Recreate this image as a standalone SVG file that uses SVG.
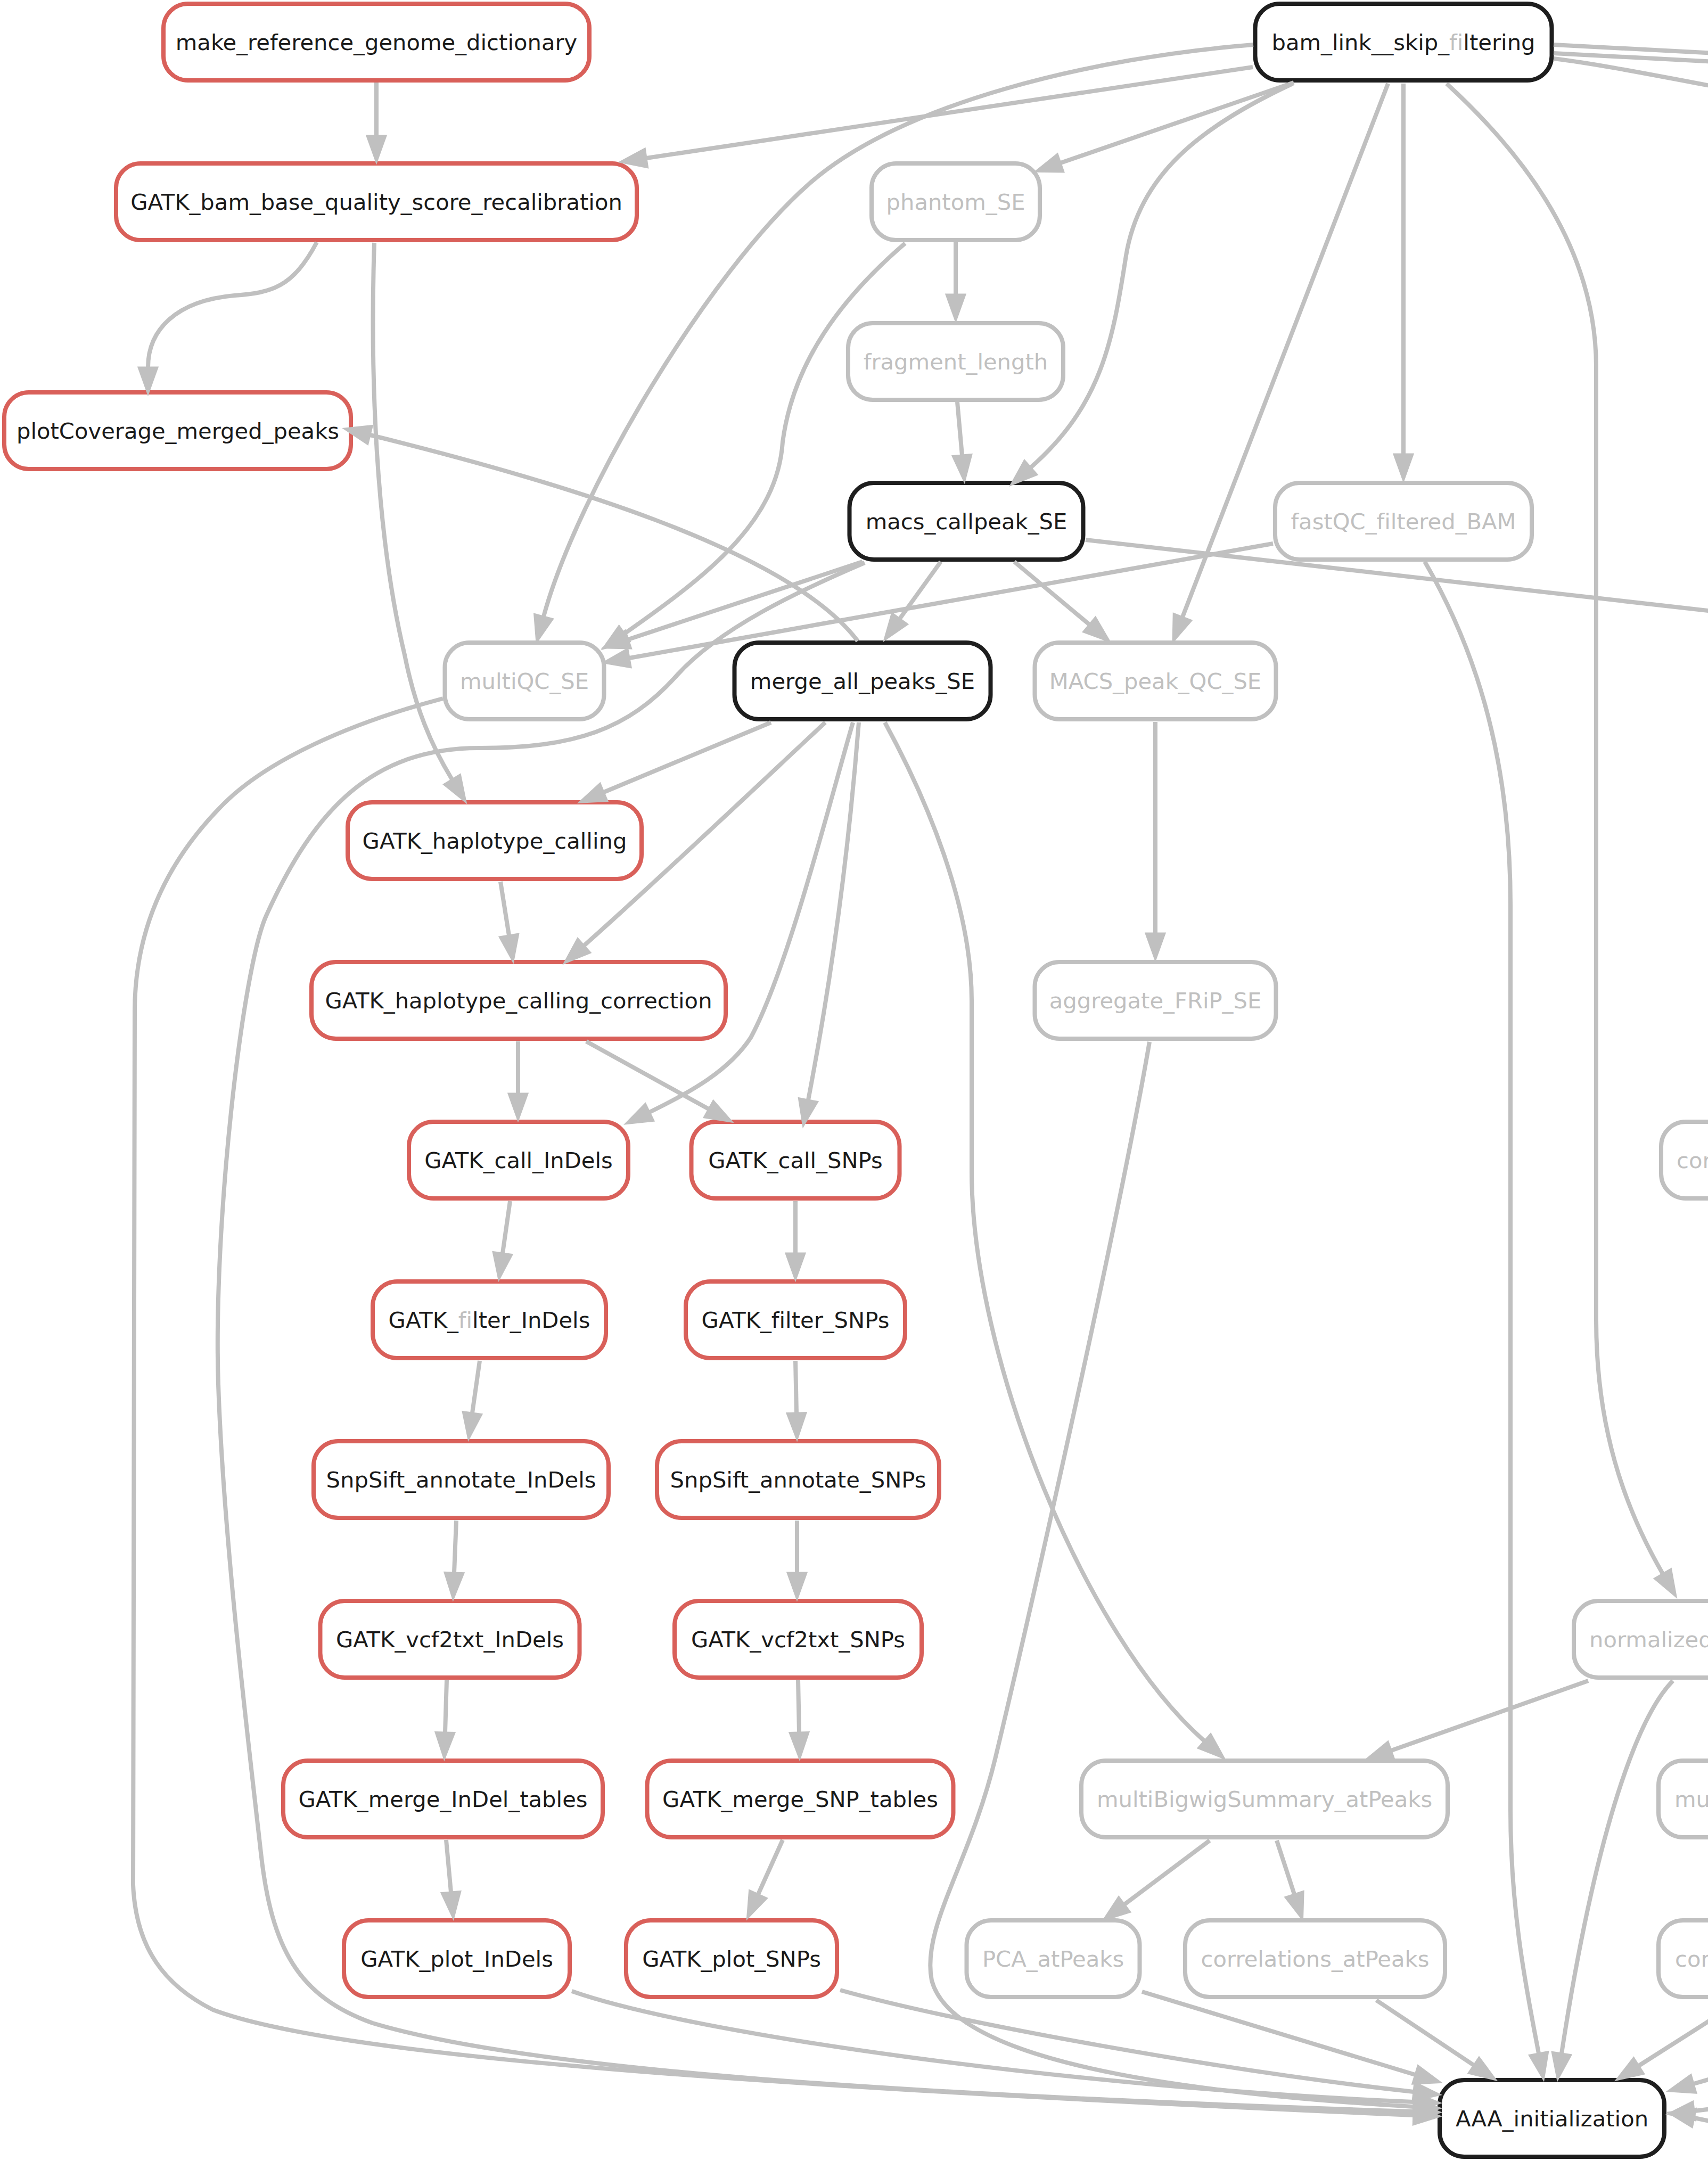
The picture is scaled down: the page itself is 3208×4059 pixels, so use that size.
<svg xmlns="http://www.w3.org/2000/svg" width="3208" height="4059" viewBox="0 0 3208 4059">
<style>
.n rect{fill:#fff;stroke-width:8}
.red rect{stroke:#d9605a}
.blk rect{stroke:#1e1e1e}
.gry rect{stroke:#c0c0c0}
text{font-family:"DejaVu Sans","Liberation Sans",sans-serif;font-size:41.7px;text-anchor:middle;fill:#1a1a1a;font-variant-ligatures:none}
.gry text{fill:#c0c0c0}
text.st{text-anchor:start}
.lf{fill:#c0c0c0}
#edges path{fill:none;stroke:#c0c0c0;stroke-width:8}
#edges path.a{marker-end:url(#ah)}
</style>
<defs>
<marker id="ah" markerUnits="userSpaceOnUse" viewBox="-4 -24 60 48" markerWidth="60" markerHeight="48" refX="0" refY="0" orient="auto">
<path d="M0,-18 L50,0 L0,18 Z" fill="#c0c0c0" stroke="#c0c0c0" stroke-width="3"/>
</marker>
</defs>
<rect x="0" y="0" width="3208" height="4059" fill="#fff"/>

<g id="n_make_reference_genome_dictionary" class="n red"><rect x="307" y="7" width="800" height="144" rx="46"/><text x="707" y="94">make_reference_genome_dictionary</text></g>
<g id="n_bam_link__skip_filtering" class="n blk"><rect x="2357.5" y="7" width="557" height="144" rx="46"/><text x="2636" y="94">bam_link__skip_<tspan class="lf">fi</tspan>ltering</text></g>
<g id="n_GATK_bam_base_quality_score_recalibration" class="n red"><rect x="218" y="307" width="978" height="144" rx="46"/><text x="707" y="394">GATK_bam_base_quality_score_recalibration</text></g>
<g id="n_phantom_SE" class="n gry"><rect x="1637" y="307" width="316" height="144" rx="46"/><text x="1795" y="394">phantom_SE</text></g>
<g id="n_plotCoverage_merged_peaks" class="n red"><rect x="8" y="737" width="651" height="144" rx="46"/><text x="334" y="824">plotCoverage_merged_peaks</text></g>
<g id="n_fragment_length" class="n gry"><rect x="1593" y="607" width="404" height="144" rx="46"/><text x="1795" y="694">fragment_length</text></g>
<g id="n_macs_callpeak_SE" class="n blk"><rect x="1595.5" y="907" width="439" height="144" rx="46"/><text x="1815" y="994">macs_callpeak_SE</text></g>
<g id="n_fastQC_filtered_BAM" class="n gry"><rect x="2395" y="907" width="482" height="144" rx="46"/><text x="2636" y="994">fastQC_filtered_BAM</text></g>
<g id="n_multiQC_SE" class="n gry"><rect x="835.5" y="1207" width="299" height="144" rx="46"/><text x="985" y="1294">multiQC_SE</text></g>
<g id="n_merge_all_peaks_SE" class="n blk"><rect x="1379.5" y="1207" width="481" height="144" rx="46"/><text x="1620" y="1294">merge_all_peaks_SE</text></g>
<g id="n_MACS_peak_QC_SE" class="n gry"><rect x="1943.5" y="1207" width="453" height="144" rx="46"/><text x="2170" y="1294">MACS_peak_QC_SE</text></g>
<g id="n_GATK_haplotype_calling" class="n red"><rect x="653" y="1507" width="552" height="144" rx="46"/><text x="929" y="1594">GATK_haplotype_calling</text></g>
<g id="n_GATK_haplotype_calling_correction" class="n red"><rect x="585" y="1807" width="778" height="144" rx="46"/><text x="974" y="1894">GATK_haplotype_calling_correction</text></g>
<g id="n_aggregate_FRiP_SE" class="n gry"><rect x="1943.5" y="1807" width="453" height="144" rx="46"/><text x="2170" y="1894">aggregate_FRiP_SE</text></g>
<g id="n_GATK_call_InDels" class="n red"><rect x="768" y="2107" width="412" height="144" rx="46"/><text x="974" y="2194">GATK_call_InDels</text></g>
<g id="n_GATK_call_SNPs" class="n red"><rect x="1298.5" y="2107" width="391" height="144" rx="46"/><text x="1494" y="2194">GATK_call_SNPs</text></g>
<g id="n_cor_r7" class="n gry"><rect x="3120" y="2107" width="400" height="144" rx="46"/><text class="st" x="3149" y="2194">cor</text></g>
<g id="n_GATK_filter_InDels" class="n red"><rect x="700" y="2407" width="438" height="144" rx="46"/><text x="919" y="2494">GATK_<tspan class="lf">fi</tspan>lter_InDels</text></g>
<g id="n_GATK_filter_SNPs" class="n red"><rect x="1288" y="2407" width="412" height="144" rx="46"/><text x="1494" y="2494">GATK_filter_SNPs</text></g>
<g id="n_SnpSift_annotate_InDels" class="n red"><rect x="589" y="2707" width="554" height="144" rx="46"/><text x="866" y="2794">SnpSift_annotate_InDels</text></g>
<g id="n_SnpSift_annotate_SNPs" class="n red"><rect x="1234" y="2707" width="530" height="144" rx="46"/><text x="1499" y="2794">SnpSift_annotate_SNPs</text></g>
<g id="n_GATK_vcf2txt_InDels" class="n red"><rect x="601.5" y="3007" width="487" height="144" rx="46"/><text x="845" y="3094">GATK_vcf2txt_InDels</text></g>
<g id="n_GATK_vcf2txt_SNPs" class="n red"><rect x="1267" y="3007" width="464" height="144" rx="46"/><text x="1499" y="3094">GATK_vcf2txt_SNPs</text></g>
<g id="n_normalized" class="n gry"><rect x="2956" y="3007" width="500" height="144" rx="46"/><text class="st" x="2985" y="3094">normalized</text></g>
<g id="n_GATK_merge_InDel_tables" class="n red"><rect x="532" y="3307" width="600" height="144" rx="46"/><text x="832" y="3394">GATK_merge_InDel_tables</text></g>
<g id="n_GATK_merge_SNP_tables" class="n red"><rect x="1215.5" y="3307" width="575" height="144" rx="46"/><text x="1503" y="3394">GATK_merge_SNP_tables</text></g>
<g id="n_multiBigwigSummary_atPeaks" class="n gry"><rect x="2031" y="3307" width="688" height="144" rx="46"/><text x="2375" y="3394">multiBigwigSummary_atPeaks</text></g>
<g id="n_mu_r11" class="n gry"><rect x="3115" y="3307" width="400" height="144" rx="46"/><text class="st" x="3145" y="3394">mu</text></g>
<g id="n_GATK_plot_InDels" class="n red"><rect x="646" y="3607" width="424" height="144" rx="46"/><text x="858" y="3694">GATK_plot_InDels</text></g>
<g id="n_GATK_plot_SNPs" class="n red"><rect x="1176" y="3607" width="396" height="144" rx="46"/><text x="1374" y="3694">GATK_plot_SNPs</text></g>
<g id="n_PCA_atPeaks" class="n gry"><rect x="1815.5" y="3607" width="325" height="144" rx="46"/><text x="1978" y="3694">PCA_atPeaks</text></g>
<g id="n_correlations_atPeaks" class="n gry"><rect x="2226" y="3607" width="488" height="144" rx="46"/><text x="2470" y="3694">correlations_atPeaks</text></g>
<g id="n_cor_r12" class="n gry"><rect x="3115" y="3607" width="400" height="144" rx="46"/><text class="st" x="3146" y="3694">cor</text></g>
<g id="n_AAA_initialization" class="n blk"><rect x="2704" y="3907" width="422" height="144" rx="46"/><text x="2915" y="3994">AAA_initialization</text></g>

<g id="edges">
<path class="a" d="M707,155 L707,255"/>
<path class="a" d="M2353,126 L1214,297"/>
<path class="a" d="M2354,84 C2054,108 1692,193 1520,345 C1332,510 1085,923 1021,1158"/>
<path class="a" d="M2430,155 L1992,306"/>
<path class="a" d="M2428,157 C2250,240 2140,330 2115,480 C2090,640 2070,760 1936,878"/>
<path class="a" d="M2607,157 L2221,1159"/>
<path class="a" d="M2636,157 L2636,853"/>
<path class="a" d="M2717,157 C2840,270 2998,450 2998,690 L2998,2480 C2998,2680 3050,2830 3123,2956"/>
<path d="M2918,84 L3260,102"/>
<path d="M2918,100 L3260,118"/>
<path d="M2918,110 C3000,120 3100,140 3260,170"/>
<path class="a" d="M1795,455 L1795,553"/>
<path class="a" d="M1700,457 C1580,560 1490,680 1470,830 C1460,980 1330,1080 1173,1190"/>
<path class="a" d="M1798,755 L1807,855"/>
<path class="a" d="M1620,1055 L1180,1201"/>
<path class="a" d="M1767,1055 L1690,1162"/>
<path class="a" d="M1905,1055 L2046,1173"/>
<path d="M2039,1014 L3260,1153"/>
<path class="a" d="M2391,1021 L1182,1236"/>
<path class="a" d="M2676,1055 C2760,1200 2837,1400 2837,1700 L2837,3400 C2837,3600 2870,3750 2890,3857"/>
<path class="a" d="M1624,1057 C1500,1110 1350,1180 1270,1270 C1180,1370 1080,1405 900,1405 C700,1405 590,1520 500,1720 C455,1820 400,2300 410,2600 C420,2900 470,3300 490,3480 C510,3660 560,3750 700,3800 C1000,3890 1700,3935 2655,3966"/>
<path class="a" d="M832,1312 C650,1360 500,1430 420,1510 C310,1620 253,1750 253,1900 L250,3540 C255,3660 310,3730 400,3775 C600,3850 1200,3910 2655,3973"/>
<path class="a" d="M1611,1204 C1480,1030 1032,900 695,817"/>
<path class="a" d="M595,455 C550,540 510,550 440,555 C330,565 278,620 278,690"/>
<path class="a" d="M703,456 C695,700 705,1000 760,1230 C780,1330 810,1400 849,1464"/>
<path class="a" d="M1448,1357 L1134,1488"/>
<path class="a" d="M1550,1357 C1450,1450 1250,1640 1097,1776"/>
<path class="a" d="M1602,1357 C1560,1500 1480,1820 1410,1949 C1370,2010 1300,2050 1220,2089"/>
<path class="a" d="M1613,1357 C1590,1650 1550,1900 1518,2066"/>
<path class="a" d="M1662,1357 C1740,1500 1825,1700 1825,1880 L1825,2200 C1825,2550 2037,3072 2262,3270"/>
<path class="a" d="M940,1656 L956,1757"/>
<path class="a" d="M973,1956 L973,2054"/>
<path class="a" d="M1101,1956 L1331,2083"/>
<path class="a" d="M958,2256 L944,2354"/>
<path class="a" d="M1494,2256 L1494,2354"/>
<path class="a" d="M901,2556 L887,2654"/>
<path class="a" d="M1494,2556 L1496,2654"/>
<path class="a" d="M857,2856 L853,2954"/>
<path class="a" d="M1497,2856 L1497,2954"/>
<path class="a" d="M839,3156 L836,3254"/>
<path class="a" d="M1499,3156 L1501,3254"/>
<path class="a" d="M838,3456 L847,3554"/>
<path class="a" d="M1470,3456 L1424,3558"/>
<path class="a" d="M1074,3740 C1300,3820 2000,3920 2655,3948"/>
<path class="a" d="M1578,3738 C1800,3800 2300,3890 2655,3929"/>
<path class="a" d="M2170,1356 L2170,1753"/>
<path class="a" d="M2159,1957 C2100,2300 1930,3050 1870,3300 C1822,3500 1730,3620 1750,3720 C1790,3870 2200,3930 2655,3957"/>
<path class="a" d="M2983,3157 L2613,3288"/>
<path class="a" d="M3142,3157 C3080,3220 3000,3420 2933,3857"/>
<path class="a" d="M2272,3457 L2112,3577"/>
<path class="a" d="M2398,3457 L2431,3558"/>
<path class="a" d="M2145,3741 L2658,3897"/>
<path class="a" d="M2585,3757 L2768,3879"/>
<path class="a" d="M3240,3777 L3078,3880"/>
<path class="a" d="M3240,3897 L3181,3914"/>
<path class="a" d="M3240,3958 L3182,3965"/>
<path class="a" d="M3240,3990 L3182,3978"/>
</g>
</svg>
